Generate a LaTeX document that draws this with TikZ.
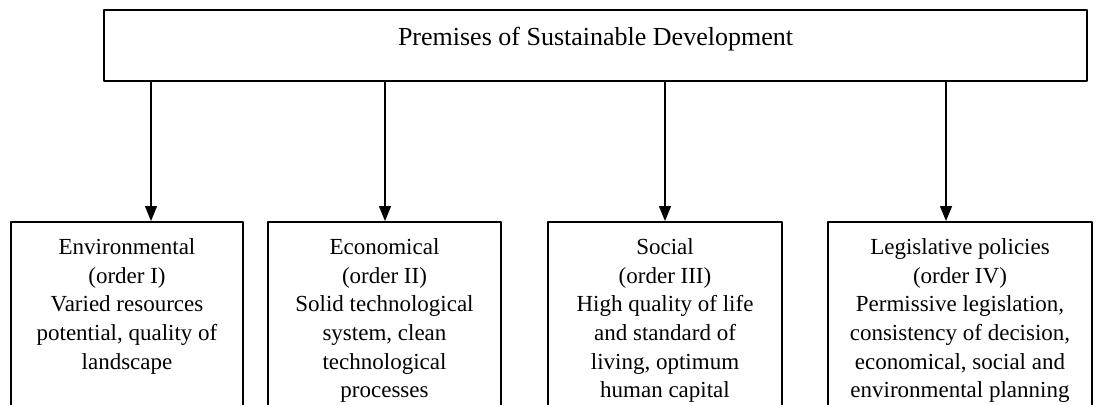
\documentclass[tikz,border=0pt]{standalone}
\usepackage{fontspec}
\setmainfont{Liberation Serif}
\usetikzlibrary{arrows.meta,positioning}

\begin{document}
\begin{tikzpicture}[x=0.5pt, y=-0.5pt, line cap=round, line join=round,
    titlebox/.style={draw, line width=0.8pt, minimum width=491.5pt, minimum height=35.5pt,
      inner sep=0pt, text height=9pt, text depth=9.5pt, font=\fontsize{13}{15.6}\selectfont},
    catbox/.style={draw, line width=0.8pt, anchor=north, minimum height=110pt, inner sep=0pt},
    cattext/.style={align=center, inner sep=0pt, font=\fontsize{11.5}{14.35}\selectfont},
    arr/.style={line width=0.7pt, -{Triangle[length=7.5pt,width=6pt]}}]
  % Frame of the picture (lower part of the boxes is cut off)
  \clip (0,0) rectangle (1103,404);

  % Top box
  \node[titlebox] (premises) at (595.5,45.5) {Premises of Sustainable Development};

  % Four boxes of the orders
  \node[catbox, minimum width=116pt]   (env) at (127,221)   {};
  \node[catbox, minimum width=116.5pt] (eco) at (384.5,221) {};
  \node[catbox, minimum width=117pt]   (soc) at (665,221)   {};
  \node[catbox, minimum width=132pt]   (leg) at (960,221)   {};

  % Texts of the boxes
  \node[cattext, below=8.5pt of env.north] (envtext)
    {Environmental\\(order I)\\Varied resources\\potential, quality of\\landscape};
  \node[cattext, below=8.5pt of eco.north] (ecotext)
    {Economical\\(order II)\\Solid technological\\system, clean\\technological\\processes};
  \node[cattext, below=8.5pt of soc.north] (soctext)
    {Social\\(order III)\\High quality of life\\and standard of\\living, optimum\\human capital};
  \node[cattext, below=8.5pt of leg.north] (legtext)
    {Legislative policies\\(order IV)\\Permissive legislation,\\consistency of decision,\\economical, social and\\environmental planning};

  % Arrows
  \draw[arr] (premises.south -| 151,0) -- (env.north -| 151,0);
  \draw[arr] (premises.south -| 385,0) -- (eco.north -| 385,0);
  \draw[arr] (premises.south -| 665,0) -- (soc.north -| 665,0);
  \draw[arr] (premises.south -| 946,0) -- (leg.north -| 946,0);
\end{tikzpicture}
\end{document}
